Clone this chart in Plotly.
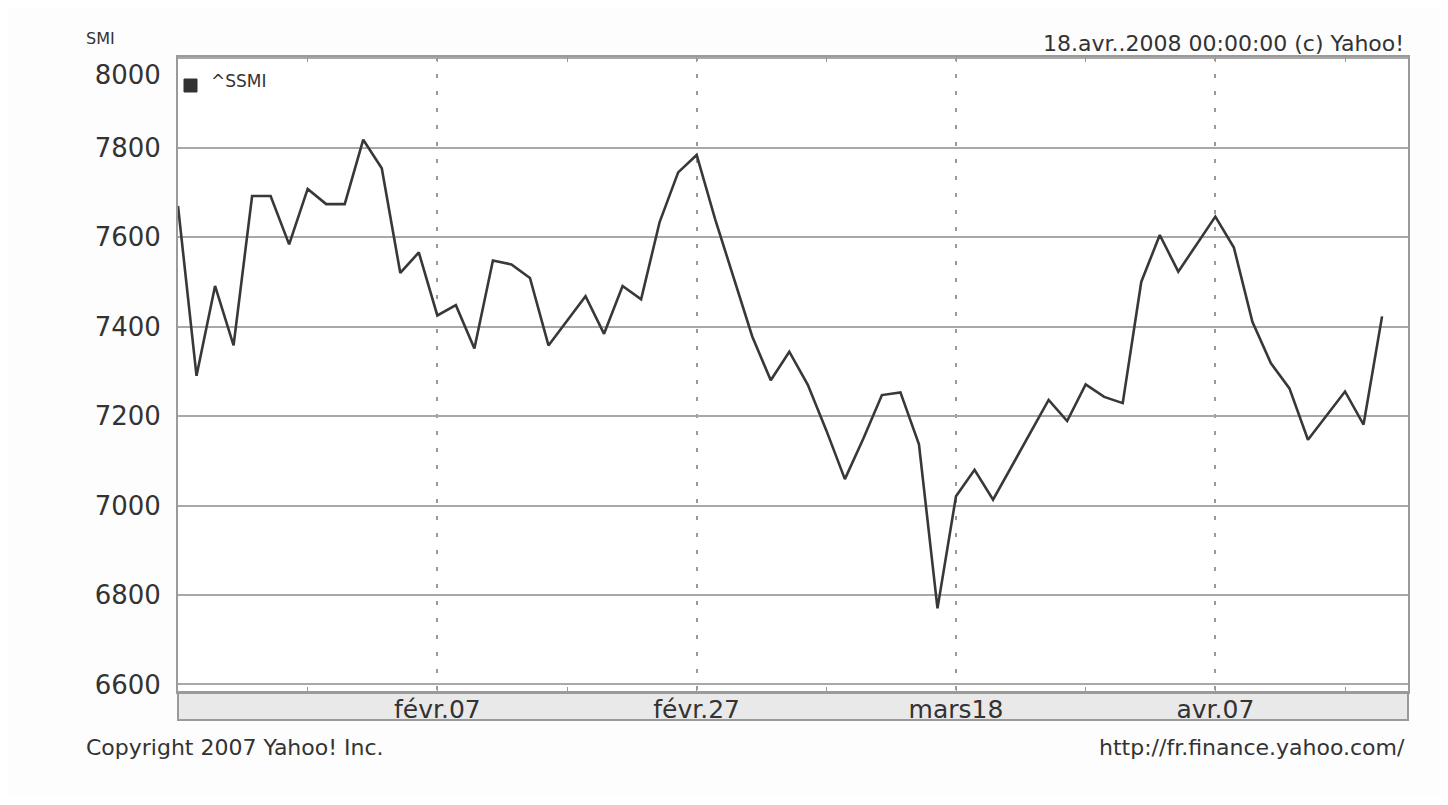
import plotly.graph_objects as go

# ---- data ----
dates = [
    "2008-01-18", "2008-01-21", "2008-01-22", "2008-01-23", "2008-01-24", "2008-01-25",
    "2008-01-28", "2008-01-29", "2008-01-30", "2008-01-31",
    "2008-02-01", "2008-02-04", "2008-02-05", "2008-02-06", "2008-02-07", "2008-02-08",
    "2008-02-11", "2008-02-12", "2008-02-13", "2008-02-14", "2008-02-15",
    "2008-02-18", "2008-02-19", "2008-02-20", "2008-02-21", "2008-02-22",
    "2008-02-25", "2008-02-26", "2008-02-27", "2008-02-28", "2008-02-29",
    "2008-03-03", "2008-03-04", "2008-03-05", "2008-03-06", "2008-03-07",
    "2008-03-10", "2008-03-11", "2008-03-12", "2008-03-13", "2008-03-14",
    "2008-03-17", "2008-03-18", "2008-03-19", "2008-03-20",
    "2008-03-25", "2008-03-26", "2008-03-27", "2008-03-28", "2008-03-31",
    "2008-04-01", "2008-04-02", "2008-04-03", "2008-04-04",
    "2008-04-07", "2008-04-08", "2008-04-09", "2008-04-10", "2008-04-11",
    "2008-04-14", "2008-04-15", "2008-04-16", "2008-04-17", "2008-04-18",
]
smi = [
    7670, 7290, 7491, 7358, 7692, 7692, 7584, 7708, 7674, 7674,
    7818, 7754, 7520, 7566, 7425, 7448, 7351, 7548, 7539, 7509, 7358,
    7413, 7468, 7384, 7491, 7461, 7634, 7745, 7784, 7640, 7510,
    7378, 7280, 7344, 7270, 7168, 7059, 7150, 7247, 7253, 7137,
    6770, 7021, 7080, 7013, 7236, 7189, 7271, 7243, 7229,
    7500, 7605, 7523, 7584, 7646, 7577, 7411, 7318, 7262,
    7147, 7200, 7255, 7181, 7423,
]
series_name = "^SSMI"
x_tick_dates = ["2008-02-07", "2008-02-27", "2008-03-18", "2008-04-07"]
x_tick_labels = ["févr.07", "févr.27", "mars18", "avr.07"]
x_minor_dates = ["2008-01-29", "2008-02-18", "2008-03-07", "2008-03-27", "2008-04-16"]
y_ticks = [6600, 6800, 7000, 7200, 7400, 7600, 7800, 8000]
# the top label sits a little below its gridline in the reference
y_tick_labels = ["6600", "6800", "7000", "7200", "7400", "7600", "7800", " <br>8000"]

# ---- layout geometry (page body has an 8px margin) ----
OFF = 8
W, H = 1448 - 2 * OFF, 805 - 2 * OFF
PLOT_L, PLOT_R, PLOT_T, PLOT_B = 178, 1408, 57, 692   # screen pixels
L, T = PLOT_L - OFF, PLOT_T - OFF
PW, PH = PLOT_R - PLOT_L, PLOT_B - PLOT_T
R, B = W - L - PW, H - T - PH


def px(xp):
    return (xp - PLOT_L) / PW


def py(yp):
    return (PLOT_B - yp) / PH


FONT = "DejaVu Sans"
TXT = "#333333"

fig = go.Figure()
fig.add_trace(go.Scatter(
    x=dates, y=smi, mode="lines", name=series_name,
    line=dict(color="#383838", width=2.6), showlegend=False,
))

fig.update_layout(
    width=W, height=H,
    margin=dict(l=L, r=R, t=T, b=B),
    paper_bgcolor="#fdfdfd", plot_bgcolor="#ffffff",
    font=dict(family=FONT, color=TXT),
    xaxis=dict(
        type="date",
        range=["2008-01-18", "2008-04-21 09:36"],
        rangebreaks=[dict(bounds=["sat", "mon"])],
        tickmode="array", tickvals=x_tick_dates, ticktext=x_tick_labels,
        tickfont=dict(family=FONT, size=25, color=TXT),
        ticks="inside", ticklen=5, tickcolor="#999999", tickwidth=1,
        showgrid=True, gridcolor="#9a9a9a", gridwidth=1.5, griddash="4px,13px",
        minor=dict(tickmode="array", tickvals=x_minor_dates, ticks="inside",
                   ticklen=5, tickcolor="#999999", showgrid=False),
        showline=True, linecolor="#9a9a9a", linewidth=2, mirror="ticks",
        zeroline=False, ticklabelstandoff=-6,
    ),
    yaxis=dict(
        range=[6583, 8003],
        tickmode="array", tickvals=y_ticks, ticktext=y_tick_labels,
        tickfont=dict(family=FONT, size=26, color=TXT),
        showgrid=True, gridcolor="#a8a8a8", gridwidth=2,
        showline=True, linecolor="#9a9a9a", linewidth=2, mirror=True,
        zeroline=False, ticks="", ticklabelstandoff=10,
    ),
    shapes=[
        # date strip under the plot
        dict(type="rect", xref="paper", yref="paper",
             x0=0, x1=1, y0=py(720), y1=0,
             fillcolor="#e9e9e9", line=dict(color="#9a9a9a", width=2), layer="below"),
        # legend swatch
        dict(type="rect", xref="paper", yref="paper",
             x0=px(184), x1=px(197), y0=py(92), y1=py(79),
             fillcolor="#333333", line=dict(color="#333333", width=1)),
    ],
    annotations=[
        dict(text="SMI", xref="paper", yref="paper", x=px(84), y=py(39),
             xanchor="left", yanchor="middle", showarrow=False,
             font=dict(family=FONT, size=16, color=TXT)),
        dict(text="18.avr..2008 00:00:00 (c) Yahoo!", xref="paper", yref="paper",
             x=px(1406), y=py(43), xanchor="right", yanchor="middle", showarrow=False,
             font=dict(family=FONT, size=22, color=TXT)),
        dict(text=series_name, xref="paper", yref="paper", x=px(209), y=py(81),
             xanchor="left", yanchor="middle", showarrow=False,
             font=dict(family=FONT, size=17, color=TXT)),
        dict(text="Copyright 2007 Yahoo! Inc.", xref="paper", yref="paper",
             x=px(84), y=py(747), xanchor="left", yanchor="middle", showarrow=False,
             font=dict(family=FONT, size=22, color=TXT)),
        dict(text="http://fr.finance.yahoo.com/", xref="paper", yref="paper",
             x=px(1407), y=py(747), xanchor="right", yanchor="middle", showarrow=False,
             font=dict(family=FONT, size=22, color=TXT)),
    ],
)

fig.write_html("out.html")
